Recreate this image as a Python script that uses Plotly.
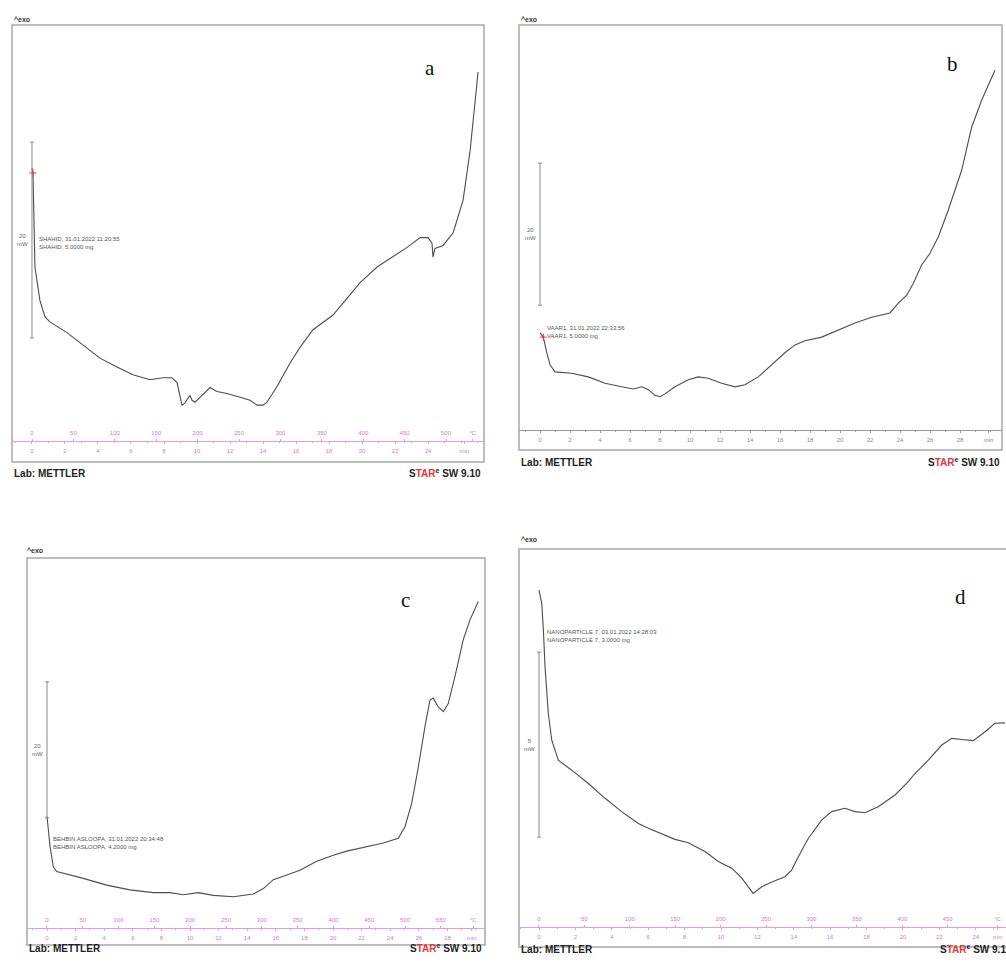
import plotly.graph_objects as go

# ---------------- data (time in min, heat flow in mW, arbitrary offset) ----------------
time_a = [0.0, 0.06, 0.18, 0.48, 0.79, 1.09, 2.12, 4.12, 5.15, 6.12, 7.15, 7.94, 8.48, 8.79, 9.09, 9.27,
          9.45, 9.58, 9.70, 9.88, 10.30, 10.79, 11.21, 11.82, 12.61, 13.21, 13.64, 14.0, 14.24, 14.85,
          15.64, 16.24, 17.03, 17.64, 18.24, 19.09, 19.88, 20.91, 21.70, 22.73, 23.52, 24.0, 24.24, 24.30,
          24.42, 24.91, 25.52, 26.12, 26.55, 26.85, 27.03]
heat_a = [30.0, 29.5, 19.9, 16.5, 14.8, 14.3, 13.2, 10.6, 9.7, 8.9, 8.4, 8.6, 8.6, 8.1, 5.8, 6.0,
          6.5, 6.8, 6.3, 6.1, 6.8, 7.6, 7.2, 7.0, 6.6, 6.3, 5.8, 5.8, 6.1, 7.7,
          10.1, 11.7, 13.5, 14.3, 15.0, 16.7, 18.3, 19.9, 20.8, 21.9, 22.9, 22.9, 22.3, 20.9,
          21.8, 22.1, 23.4, 26.7, 31.8, 36.9, 39.8]

time_b = [0.0, 0.22, 0.45, 0.67, 1.0, 2.11, 3.22, 4.33, 5.45, 6.22, 6.78, 7.22, 7.67, 8.0, 8.33, 9.0,
          9.89, 10.55, 11.22, 12.11, 13.0, 13.67, 14.55, 15.45, 16.33, 17.0, 17.67, 18.78, 19.89, 21.0,
          22.11, 23.33, 23.89, 24.45, 24.89, 25.45, 26.0, 26.55, 27.22, 28.11, 28.78, 29.45, 30.33]
heat_b = [16.5, 15.9, 13.7, 12.0, 11.0, 10.8, 10.3, 9.4, 8.9, 8.6, 8.9, 8.5, 7.7, 7.5, 7.9, 8.9,
          9.9, 10.3, 10.1, 9.4, 8.9, 9.2, 10.3, 12.0, 13.7, 14.8, 15.4, 15.9, 16.9, 17.9,
          18.7, 19.3, 20.7, 21.8, 23.5, 26.1, 27.7, 30.0, 33.8, 39.4, 45.5, 49.3, 53.5]

time_c = [0.0, 0.09, 0.21, 0.44, 0.68, 2.54, 4.17, 5.80, 7.43, 8.60, 9.53, 10.58, 11.63, 13.03, 14.43,
          15.13, 15.83, 16.52, 17.69, 18.86, 20.02, 20.96, 22.36, 23.52, 24.57, 25.03, 25.50, 25.97,
          26.43, 26.78, 27.01, 27.36, 27.71, 28.06, 28.53, 29.11, 29.58, 30.16]
heat_c = [18.9, 16.9, 14.5, 11.5, 10.8, 9.8, 8.8, 8.1, 7.7, 7.7, 7.4, 7.7, 7.3, 7.1, 7.5,
          8.3, 9.6, 10.1, 11.0, 12.3, 13.2, 13.8, 14.5, 15.0, 15.7, 17.4, 20.8, 26.2,
          32.1, 36.0, 36.3, 35.0, 34.3, 35.5, 39.5, 44.9, 47.8, 50.5]

time_d = [0.0, 0.15, 0.24, 0.33, 0.51, 0.70, 1.06, 1.80, 2.71, 3.63, 4.54, 5.46, 6.01, 6.74, 7.47, 8.20,
          9.12, 9.85, 10.59, 11.14, 11.77, 12.24, 12.79, 13.52, 13.88, 14.25, 14.80, 15.53, 16.08, 16.81,
          17.36, 17.91, 18.64, 19.56, 20.29, 20.66, 21.39, 22.13, 22.68, 23.23, 23.86, 24.51, 25.05, 25.60]
heat_d = [9.65, 9.29, 8.57, 7.58, 6.32, 5.59, 5.05, 4.78, 4.42, 4.02, 3.66, 3.34, 3.21, 3.05, 2.91, 2.82,
          2.58, 2.31, 2.13, 1.86, 1.45, 1.63, 1.76, 1.90, 2.08, 2.44, 2.94, 3.43, 3.66, 3.75,
          3.66, 3.63, 3.79, 4.11, 4.47, 4.69, 5.05, 5.46, 5.64, 5.61, 5.58, 5.82, 6.05, 6.06]

# tick labels of the rulers
min_ticks_a = [0, 2, 4, 6, 8, 10, 12, 14, 16, 18, 20, 22, 24, 26.2]
min_text_a = ["0", "2", "4", "6", "8", "10", "12", "14", "16", "18", "20", "22", "24", "min"]
temp_ticks_a = [0, 50, 100, 150, 200, 250, 300, 350, 400, 450, 500, 532]
temp_text_a = ["0", "50", "100", "150", "200", "250", "300", "350", "400", "450", "500", "°C"]

min_ticks_b = [0, 2, 4, 6, 8, 10, 12, 14, 16, 18, 20, 22, 24, 26, 28, 29.9]
min_text_b = ["0", "2", "4", "6", "8", "10", "12", "14", "16", "18", "20", "22", "24", "26", "28", "min"]

min_ticks_c = [0, 2, 4, 6, 8, 10, 12, 14, 16, 18, 20, 22, 24, 26, 28, 29.7]
min_text_c = ["0", "2", "4", "6", "8", "10", "12", "14", "16", "18", "20", "22", "24", "26", "28", "min"]
temp_ticks_c = [0, 50, 100, 150, 200, 250, 300, 350, 400, 450, 500, 550, 595]
temp_text_c = ["0", "50", "100", "150", "200", "250", "300", "350", "400", "450", "500", "550", "°C"]

min_ticks_d = [0, 2, 4, 6, 8, 10, 12, 14, 16, 18, 20, 22, 24, 25.2]
min_text_d = ["0", "2", "4", "6", "8", "10", "12", "14", "16", "18", "20", "22", "24", "min"]
temp_ticks_d = [0, 50, 100, 150, 200, 250, 300, 350, 400, 450, 505]
temp_text_d = ["0", "50", "100", "150", "200", "250", "300", "350", "400", "450", "°C"]

notes = {
    "a": "SHAHID, 31.01.2022 11:20:55<br>SHAHID, 5.0000 mg",
    "b": "VAAR1, 31.01.2022 22:33:56<br>VAAR1, 5.0000 mg",
    "c": "BEHBIN ASLOOPA, 31.01.2022 20:34:48<br>BEHBIN ASLOOPA, 4.2000 mg",
    "d": "NANOPARTICLE 7, 03.01.2022 14:28:03<br>NANOPARTICLE 7, 3.0000 mg",
}

# ---------------- layout helpers ----------------
W, H = 1006, 965
def fx(p):
    return p / W
def fy(p):
    return 1 - p / H

MAG = "#e39be3"
MAGT = "#d27ad2"
GRAYR = "#9a9a9a"
CURVE = "#4d4d4d"
BOX = "#a8a8a8"

panels = [
    dict(k="a", n=1, t=time_a, h=heat_a, box=(12, 25, 484, 462), xr=[-1.21, 27.39], yr=[0, 44.6],
         ruler=441, mt=min_ticks_a, mtt=min_text_a, tt=temp_ticks_a, ttt=temp_text_a, tr=[-24.2, 545.9],
         tax=5, bar=(12.65, 20), barlab="20<br>mW", note=(0.3, 22.4), letter=(430, 54), exo=(12, 14),
         foot=473, star=483, rulercol=MAG, red=True),
    dict(k="b", n=2, t=time_b, h=heat_b, box=(519, 25, 1002, 450), xr=[-1.4, 30.8], yr=[0, 59.86],
         ruler=430, mt=min_ticks_b, mtt=min_text_b, tt=None, ttt=None, tr=None,
         tax=None, bar=(20.4, 20), barlab="20<br>mW", note=(0.3, 16.6), letter=(960, 50), exo=(519, 14),
         foot=462, star=1002, rulercol=GRAYR, red=True),
    dict(k="c", n=3, t=time_c, h=heat_c, box=(27, 558, 485, 945), xr=[-1.4, 30.63], yr=[0, 56.9],
         ruler=928, mt=min_ticks_c, mtt=min_text_c, tt=temp_ticks_c, ttt=temp_text_c, tr=[-27.9, 611.7],
         tax=6, bar=(18.7, 20), barlab="20<br>mW", note=(0.25, 15.0), letter=(405, 600), exo=(25, 550),
         foot=956, star=484, rulercol=MAG, red=False),
    dict(k="d", n=4, t=time_d, h=heat_d, box=(519, 549, 1012, 947), xr=[-1.10, 25.66], yr=[0, 10.76],
         ruler=927, mt=min_ticks_d, mtt=min_text_d, tt=temp_ticks_d, ttt=temp_text_d, tr=[-22.0, 514.3],
         tax=7, bar=(2.97, 5), barlab="5<br>mW", note=(0.35, 8.4), letter=(968, 597), exo=(519, 539),
         foot=957, star=None, rulercol=MAG, red=False),
]

fig = go.Figure()
shapes = []
annotations = []
layout_axes = {}

for p in panels:
    n = p["n"]
    xa = "x" if n == 1 else f"x{n}"
    ya = "y" if n == 1 else f"y{n}"
    xname = "xaxis" if n == 1 else f"xaxis{n}"
    yname = "yaxis" if n == 1 else f"yaxis{n}"
    x0, y0, x1, y1 = p["box"]
    xdom = [fx(x0), min(1.0, fx(x1))]
    ydom = [fy(y1), fy(y0)]
    rulerpos = fy(p["ruler"])
    tcol = MAGT if p["rulercol"] == MAG else "#8a8a8a"

    layout_axes[xname] = dict(
        domain=xdom, range=p["xr"], anchor="free", position=rulerpos, side="bottom",
        showline=True, linecolor=p["rulercol"], linewidth=1, ticks="outside", ticklen=2,
        tickcolor=p["rulercol"], tickvals=p["mt"], ticktext=p["mtt"],
        tickfont=dict(size=6, color=tcol, family="Liberation Sans"), ticklabelstandoff=2,
        showgrid=False, zeroline=False,
        minor=dict(ticks="outside", ticklen=1, tickcolor=p["rulercol"], dtick=1),
    )
    layout_axes[yname] = dict(domain=ydom, range=p["yr"], visible=False, anchor=xa,
                              showgrid=False, zeroline=False)

    if p["tax"]:
        tname = f"xaxis{p['tax']}"
        layout_axes[tname] = dict(
            overlaying=xa, range=p["tr"], anchor="free", position=rulerpos, side="top",
            showline=False, ticks="outside", ticklen=2, tickcolor=MAG,
            tickvals=p["tt"], ticktext=p["ttt"],
            tickfont=dict(size=6, color=MAGT, family="Liberation Sans"), ticklabelstandoff=2,
            showgrid=False, zeroline=False,
        )
        fig.add_trace(go.Scatter(x=p["tr"], y=[None, None], xaxis=f"x{p['tax']}", yaxis=ya,
                                 mode="lines", showlegend=False, hoverinfo="skip"))

    # the DSC curve
    fig.add_trace(go.Scatter(x=p["t"], y=p["h"], xaxis=xa, yaxis=ya, mode="lines",
                             line=dict(color=CURVE, width=1.1), showlegend=False))
    if p["red"]:
        fig.add_trace(go.Scatter(x=[p["t"][1]], y=[p["h"][1]], xaxis=xa, yaxis=ya, mode="markers",
                                 marker=dict(symbol="cross-thin", size=5, line=dict(color="#e03030", width=1)),
                                 showlegend=False))

    # frame
    shapes.append(dict(type="rect", xref="paper", yref="paper", x0=fx(x0), x1=fx(x1), y0=fy(y1), y1=fy(y0),
                       line=dict(color=BOX, width=1.5), layer="below"))

    # scale bar
    b0, bspan = p["bar"]
    shapes.append(dict(type="line", xref=xa, yref=ya, x0=0, x1=0, y0=b0, y1=b0 + bspan,
                       line=dict(color="#8a8a8a", width=1)))
    for yy in (b0, b0 + bspan):
        shapes.append(dict(type="line", xref=xa, yref=ya, xsizemode="pixel", xanchor=0, x0=-2, x1=2,
                           y0=yy, y1=yy, line=dict(color="#8a8a8a", width=1)))
    annotations.append(dict(xref=xa, yref=ya, x=0, y=b0 + bspan / 2, text=p["barlab"], showarrow=False,
                            xanchor="right", xshift=-2, font=dict(size=6, color="#666", family="Liberation Sans"),
                            align="center"))

    # sample note
    nx, ny = p["note"]
    annotations.append(dict(xref=xa, yref=ya, x=nx, y=ny, text=notes[p["k"]], showarrow=False,
                            xanchor="left", align="left",
                            font=dict(size=6, color="#555", family="Liberation Sans")))

    # panel letter
    lx, ly = p["letter"]
    annotations.append(dict(xref="paper", yref="paper", x=fx(lx), y=fy(ly), text=p["k"], showarrow=False,
                            font=dict(size=21, color="#111", family="Liberation Serif")))

    # ^exo label
    ex, ey = p["exo"]
    annotations.append(dict(xref="paper", yref="paper", x=fx(ex), y=fy(ey), text="<b>^exo</b>",
                            showarrow=False, xanchor="left",
                            font=dict(size=7, color="#333", family="Liberation Sans")))

    # footer
    annotations.append(dict(xref="paper", yref="paper", x=fx(x0), y=fy(p["foot"]), text="<b>Lab: METTLER</b>",
                            showarrow=False, xanchor="left",
                            font=dict(size=10, color="#222", family="Liberation Sans")))
    star_text = "<b>S<span style='color:#e03a3a'>TAR</span><sup>e</sup> SW 9.10</b>"
    if p["star"] is not None:
        annotations.append(dict(xref="paper", yref="paper", x=fx(p["star"]), y=fy(p["foot"]), text=star_text,
                                showarrow=False, xanchor="right",
                                font=dict(size=10, color="#222", family="Liberation Sans")))
    else:
        annotations.append(dict(xref="paper", yref="paper", x=fx(938), y=fy(p["foot"]), text=star_text,
                                showarrow=False, xanchor="left",
                                font=dict(size=10, color="#222", family="Liberation Sans")))

fig.update_layout(
    width=W, height=H, margin=dict(l=0, r=0, t=0, b=0),
    paper_bgcolor="white", plot_bgcolor="rgba(0,0,0,0)",
    showlegend=False, shapes=shapes, annotations=annotations,
    **layout_axes,
)

fig.write_html(
    "out.html",
    config={"displayModeBar": False},
    post_script="document.body.style.margin='0';document.body.style.padding='0';"
                "document.documentElement.style.overflow='hidden';",
)
